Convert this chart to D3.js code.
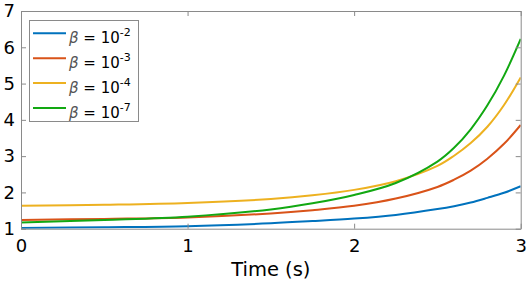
<!DOCTYPE html>
<html>
<head>
<meta charset="utf-8">
<script src="https://cdn.jsdelivr.net/npm/d3@7"></script>
<style>
  body { margin: 0; background: #fff; }
  text { font-family: "DejaVu Sans", sans-serif; fill: #000; }
</style>
</head>
<body>
<svg width="529" height="283"></svg>
<script>
// time samples (s) and one curve per beta
const times = [0, 0.5, 1, 1.5, 1.75, 2, 2.25, 2.5, 2.6, 2.7, 2.8, 2.9, 3]
const beta2 = [1.02, 1.04, 1.07, 1.15, 1.21, 1.28, 1.38, 1.54, 1.62, 1.72, 1.85, 1.99, 2.17]
const beta3 = [1.24, 1.27, 1.31, 1.42, 1.51, 1.63, 1.83, 2.15, 2.35, 2.60, 2.93, 3.34, 3.86]
const beta4 = [1.63, 1.66, 1.71, 1.82, 1.92, 2.07, 2.31, 2.73, 3.01, 3.36, 3.81, 4.41, 5.17]
const beta7 = [1.17, 1.24, 1.33, 1.53, 1.70, 1.93, 2.26, 2.85, 3.23, 3.74, 4.40, 5.22, 6.23]

const exponents = ["-2", "-3", "-4", "-7"]
const colors = ["#0072BD", "#D95319", "#EDB120", "#12A812"]
const xTicks = [0, 1, 2, 3]
const yTicks = [1, 2, 3, 4, 5, 6, 7]

const series = [beta2, beta3, beta4, beta7].map((vals, i) => ({
    exp: exponents[i],
    color: colors[i],
    points: vals.map((v, j) => [times[j], v])
}))

const m = { left: 21, right: 520.7, top: 11, bottom: 228.7 }
const svg = d3.select("svg")

const x = d3.scaleLinear().domain([0, 3]).range([m.left, m.right])
const y = d3.scaleLinear().domain([1, 7]).range([m.bottom, m.top])

svg.append("clipPath").attr("id", "plot")
    .append("rect")
    .attr("x", m.left).attr("y", m.top)
    .attr("width", m.right - m.left).attr("height", m.bottom - m.top)

const line = d3.line()
    .x(d => x(d[0]))
    .y(d => y(d[1]))
    .curve(d3.curveCatmullRom.alpha(0.5))

svg.append("g")
    .attr("clip-path", "url(#plot)")
    .selectAll("path")
    .data(series)
    .enter()
    .append("path")
    .attr("d", d => line(d.points))
    .style("fill", "none")
    .style("stroke", d => d.color)
    .style("stroke-width", 2)

// box axes with inward ticks on all sides
const axisColor = "#8a8a8a"
const tick = 5
const fmt = d3.format("d")

const axisB = d3.axisBottom(x).tickValues(xTicks).tickFormat(fmt).tickSizeInner(-tick).tickSizeOuter(0)
const axisT = d3.axisTop(x).tickValues(xTicks).tickSizeInner(-tick).tickSizeOuter(0).tickFormat("")
const axisL = d3.axisLeft(y).tickValues(yTicks).tickFormat(fmt).tickSizeInner(-tick).tickSizeOuter(0)
const axisR = d3.axisRight(y).tickValues(yTicks).tickSizeInner(-tick).tickSizeOuter(0).tickFormat("")

const gB = svg.append("g").attr("transform", `translate(0,${m.bottom})`).call(axisB)
svg.append("g").attr("transform", `translate(0,${m.top})`).call(axisT)
const gL = svg.append("g").attr("transform", `translate(${m.left},0)`).call(axisL)
svg.append("g").attr("transform", `translate(${m.right},0)`).call(axisR)

svg.selectAll(".domain, .tick line").style("stroke", axisColor).style("stroke-width", 1)
gB.selectAll(".tick text").style("font-size", "18px").attr("dy", "0.71em").attr("y", 11)
gL.selectAll(".tick text").style("font-size", "18px").attr("x", -6)
svg.selectAll(".tick text").style("font-family", "DejaVu Sans, sans-serif").style("fill", "#000")

svg.append("text")
    .attr("x", (m.left + m.right) / 2)
    .attr("y", 276)
    .style("text-anchor", "middle")
    .style("font-size", "19.5px")
    .text("Time (s)")

// legend
const legend = svg.append("g")
legend.append("rect")
    .attr("x", 29.5).attr("y", 20.5)
    .attr("width", 109).attr("height", 101)
    .style("fill", "#fff")
    .style("stroke", axisColor)

const rows = legend.selectAll("g.entry")
    .data(series)
    .enter()
    .append("g")
    .attr("class", "entry")
    .attr("transform", (d, i) => `translate(0, ${33.3 + i * 24.9})`)

rows.append("line")
    .attr("x1", 33).attr("x2", 66)
    .attr("y1", 0).attr("y2", 0)
    .style("stroke", d => d.color)
    .style("stroke-width", 2)

const label = rows.append("text")
    .attr("x", 69)
    .attr("y", 9.5)
    .style("font-size", "15px")
label.append("tspan").style("font-style", "italic").style("fill", "#555").text("β")
label.append("tspan").text(" = 10")
label.append("tspan")
    .attr("dy", -6.5)
    .style("font-size", "11px")
    .text(d => d.exp)
</script>
</body>
</html>
